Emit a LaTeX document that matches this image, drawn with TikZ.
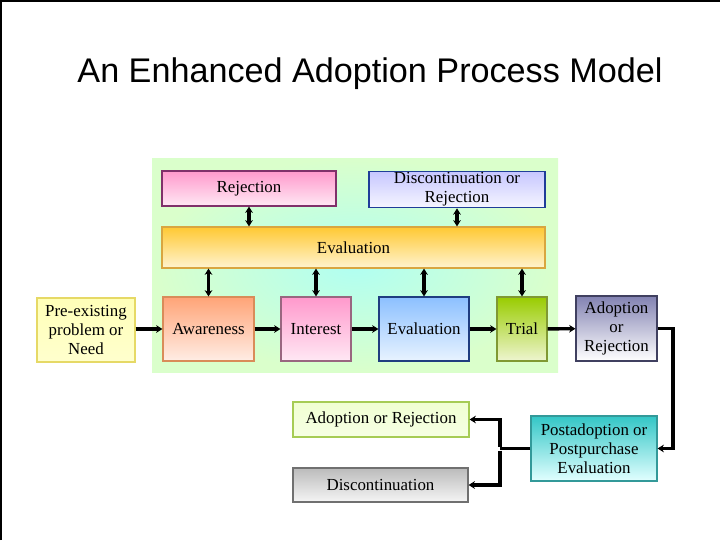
\documentclass[tikz,border=0pt]{standalone}
\usepackage{fontspec}
\setmainfont{Liberation Serif}
\newfontfamily\titlefont{Liberation Sans}
\usetikzlibrary{arrows.meta,calc,positioning}
\definecolor{Bg_In}{HTML}{B0FFF2}
\definecolor{Bg_Out}{HTML}{DAFFCB}
\definecolor{Pink_Top}{HTML}{FF99CC}
\definecolor{Pink_Bot}{HTML}{FFE8F4}
\definecolor{Pink_Line}{HTML}{80306A}
\definecolor{Lilac_Top}{HTML}{C6C6FF}
\definecolor{Lilac_Bot}{HTML}{F6F6FF}
\definecolor{Lilac_Line}{HTML}{1F3D99}
\definecolor{Gold_Top}{HTML}{FFC933}
\definecolor{Gold_Bot}{HTML}{FFF3CF}
\definecolor{Gold_Line}{HTML}{D9A640}
\definecolor{Lemon}{HTML}{FFFFB8}
\definecolor{Lemon_Line}{HTML}{E6D966}
\definecolor{Peach_Top}{HTML}{FFA477}
\definecolor{Peach_Bot}{HTML}{FFEDE5}
\definecolor{Peach_Line}{HTML}{D98C59}
\definecolor{Rose_Line}{HTML}{996680}
\definecolor{Sky_Top}{HTML}{8CC0FF}
\definecolor{Sky_Bot}{HTML}{E8F3FF}
\definecolor{Sky_Line}{HTML}{1F3D80}
\definecolor{Olive_Top}{HTML}{99CC00}
\definecolor{Olive_Bot}{HTML}{EEF5D0}
\definecolor{Olive_Line}{HTML}{809933}
\definecolor{Slate_Top}{HTML}{8282B2}
\definecolor{Slate_Line}{HTML}{404060}
\definecolor{Lime}{HTML}{F0FFD2}
\definecolor{Lime_Line}{HTML}{A6CC55}
\definecolor{Grey_Top}{HTML}{BBBBBB}
\definecolor{Grey_Bot}{HTML}{F5F5F5}
\definecolor{Grey_Line}{HTML}{707070}
\definecolor{Teal_Top}{HTML}{33C6C6}
\definecolor{Teal_Bot}{HTML}{E2FFFF}
\definecolor{Teal_Line}{HTML}{339999}

\tikzset{
  box/.style={rectangle, align=center, inner sep=1pt, line width=0.8pt,
    font=\fontsize{12}{13.5}\selectfont},
  flow/.style={line width=2.4pt, -{Stealth[length=4.5pt,width=5.5pt]}},
  twoway/.style={line width=2.2pt, {Stealth[length=4.5pt,width=5.5pt]}-{Stealth[length=4.5pt,width=5.5pt]}},
  link/.style={line width=2.4pt}
}

\begin{document}
\begin{tikzpicture}[x=0.025cm, y=-0.025cm]
    \useasboundingbox (0,0) rectangle (720,540);

    % Frame edges (left and top)
    \draw[line width=1.4pt] (1,540) -- (1,1) -- (720,1);

    % Title
    \node[font=\titlefont\fontsize{24.3}{27}\selectfont] (title) at (370,74) {An Enhanced Adoption Process Model};

    % Background panel
    \shade[inner color=Bg_In, outer color=Bg_Out] (152,158) rectangle (558,372);

    % Top row
    \node[box, draw=Pink_Line, top color=Pink_Top, bottom color=Pink_Bot,
          minimum width=4.35cm, minimum height=0.875cm] (rej) at (249,188.5) {Rejection};
    \node[box, draw=Lilac_Line, top color=Lilac_Top, bottom color=Lilac_Bot,
          minimum width=4.4cm, minimum height=0.875cm] (disc) at (457,189.5) {Discontinuation or\\Rejection};

    % Evaluation bar
    \node[box, draw=Gold_Line, top color=Gold_Top, bottom color=Gold_Bot,
          minimum width=9.575cm, minimum height=1.025cm] (evalbar) at (353.5,247.5) {Evaluation};

    % Main process row
    \node[box, draw=Lemon_Line, top color=Lemon, bottom color=Lemon!70,
          minimum width=2.45cm, minimum height=1.6cm] (need) at (86,330) {Pre-existing\\problem or\\Need};
    \node[box, draw=Peach_Line, top color=Peach_Top, bottom color=Peach_Bot,
          minimum width=2.275cm, minimum height=1.6cm] (aware) at (208.5,329) {Awareness};
    \node[box, draw=Rose_Line, top color=Pink_Top, bottom color=Pink_Bot,
          minimum width=1.75cm, minimum height=1.6cm] (interest) at (316,329) {Interest};
    \node[box, draw=Sky_Line, top color=Sky_Top, bottom color=Sky_Bot,
          minimum width=2.25cm, minimum height=1.6cm] (evalbox) at (424,329) {Evaluation};
    \node[box, draw=Olive_Line, top color=Olive_Top, bottom color=Olive_Bot,
          minimum width=1.25cm, minimum height=1.6cm] (trial) at (522,329) {Trial};
    \node[box, draw=Slate_Line, top color=Slate_Top, bottom color=white,
          minimum width=2.025cm, minimum height=1.625cm] (adopt) at (616.5,328.5) {Adoption\\or\\Rejection};

    % Lower outcomes
    \node[box, draw=Lime_Line, top color=Lime, bottom color=Lime!60,
          minimum width=4.4cm, minimum height=0.875cm] (adoptrej) at (381,419.5) {Adoption or Rejection};
    \node[box, draw=Grey_Line, top color=Grey_Top, bottom color=Grey_Bot,
          minimum width=4.375cm, minimum height=0.85cm] (discont) at (380.5,485) {Discontinuation};
    \node[box, draw=Teal_Line, top color=Teal_Top, bottom color=Teal_Bot,
          minimum width=3.15cm, minimum height=1.625cm] (post) at (594,448.5) {Postadoption or\\Postpurchase\\Evaluation};

    % Links to the evaluation bar
    \draw[twoway] (rej.south) -- (rej.south |- evalbar.north);
    \draw[twoway] (disc.south) -- (disc.south |- evalbar.north);
    \foreach \n in {aware,interest,evalbox,trial}
        \draw[twoway] (\n.north |- evalbar.south) -- (\n.north);

    % Process flow
    \draw[flow] (need.east |- aware) -- (aware);
    \draw[flow] (aware) -- (interest);
    \draw[flow] (interest) -- (evalbox);
    \draw[flow] (evalbox) -- (trial);
    \draw[flow] (trial) -- (adopt);

    % Adoption to postadoption evaluation
    \coordinate (turn) at (673,0);
    \draw[flow] (adopt.east) -| (turn |- post.east) -- (post.east);

    % Postadoption split
    \coordinate (split) at (500,448.5);
    \draw[link] (post.west) -- (split);
    \draw[flow] ($(split)+(0,-2)$) |- (adoptrej.east);
    \draw[flow] ($(split)+(0,2)$) |- (discont.east);
\end{tikzpicture}
\end{document}
